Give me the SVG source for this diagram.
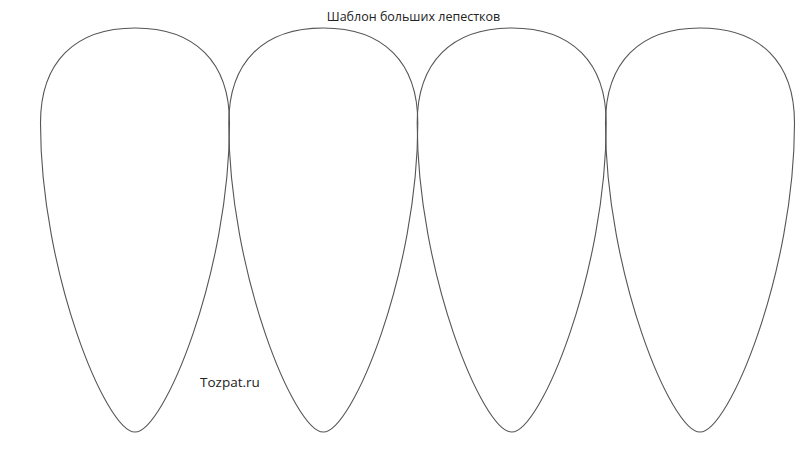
<svg xmlns="http://www.w3.org/2000/svg" width="800" height="450" viewBox="0 0 800 450">
<defs>
<style>
.petal{fill:none;stroke:#555;stroke-width:1.1}
.t{font-family:"Open Sans","Liberation Sans",sans-serif;fill:#222}
</style>
<path id="petalShape" d="M-94.5,123 C-94.5,62 -60,28 0,28 C60,28 94.5,62 94.5,123 C94.5,272 29,432 0,432 C-29,432 -94.5,272 -94.5,123 Z"/>
</defs>
<rect width="800" height="450" fill="#fff"/>
<g id="petal1"><use href="#petalShape" class="petal" transform="translate(135,0)"/></g>
<g id="petal2"><use href="#petalShape" class="petal" transform="translate(323.3,0)"/></g>
<g id="petal3"><use href="#petalShape" class="petal" transform="translate(511.7,0)"/></g>
<g id="petal4"><use href="#petalShape" class="petal" transform="translate(700,0)"/></g>
<g id="connectors"/>
<text class="t" x="413.5" y="21" font-size="12.5" text-anchor="middle">Шаблон больших лепестков</text>
<text class="t" x="200" y="387" font-size="13.5" font-weight="500">Tozpat.ru</text>
</svg>
